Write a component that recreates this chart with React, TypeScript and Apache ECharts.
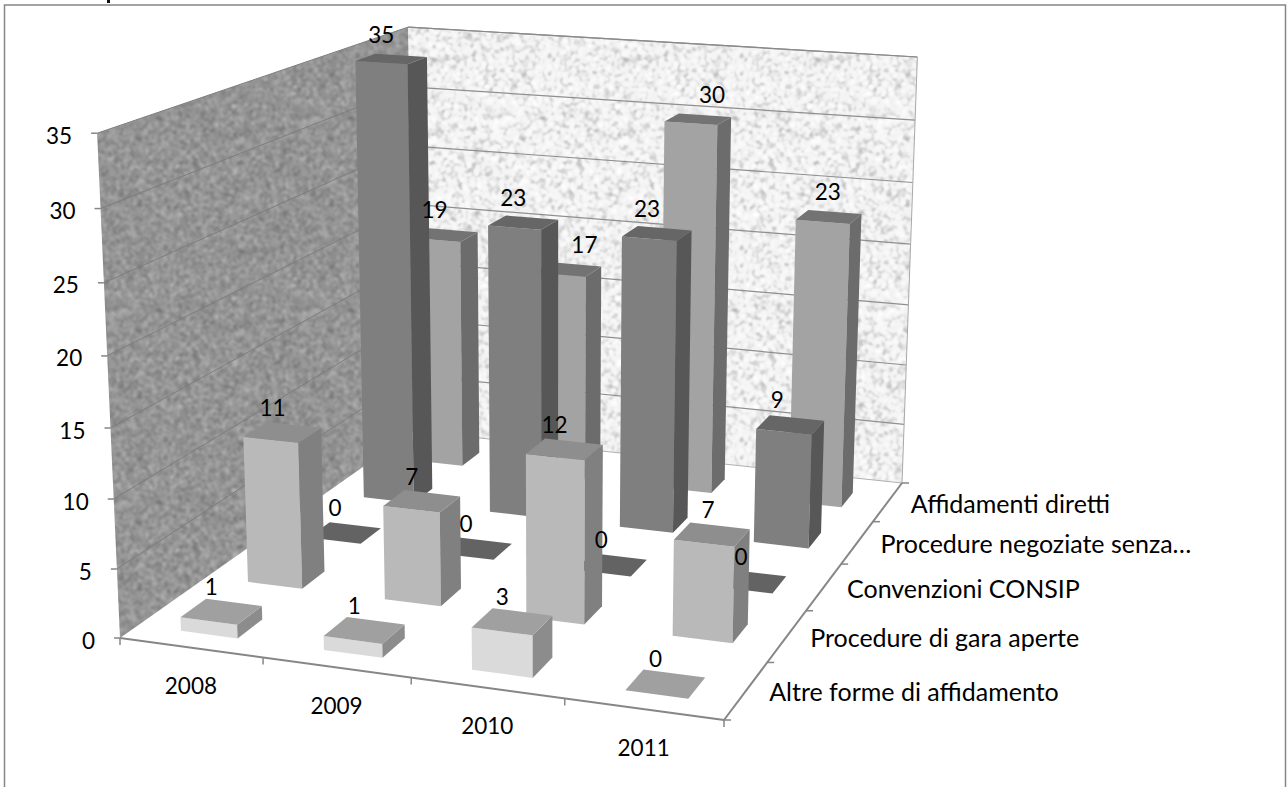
import React, { useEffect, useRef } from "react";
import * as echarts from "echarts";

const years = ["2008", "2009", "2010", "2011"];
const rowNames = [
  "Altre forme di affidamento",
  "Procedure di gara aperte",
  "Convenzioni CONSIP",
  "Procedure negoziate senza…",
  "Affidamenti diretti",
];
const altreForme = [1, 1, 3, 0];
const garaAperte = [11, 7, 12, 7];
const convenzioni = [0, 0, 0, 0];
const negoziate = [35, 23, 23, 9];
const affidamenti = [19, 17, 30, 23];
const rowValues = [altreForme, garaAperte, convenzioni, negoziate, affidamenti];
const valueTicks = [0, 5, 10, 15, 20, 25, 30, 35];

const frontColors = ["#dadada", "#b9b9b9", "#777777", "#7f7f7f", "#a3a3a3"];
const topColors = ["#a0a0a0", "#8e8e8e", "#636363", "#666666", "#737373"];
const sideColors = ["#8c8c8c", "#808080", "#555555", "#575757", "#6c6c6c"];
const FONT = "22.5px Lato, Carlito, sans-serif";
const ROW_FONT = "25px Lato, Carlito, sans-serif";
// horizontal label displacement per row and year (pixels)
const labelNudge = [
  [0, 0, 0, 0],
  [0, 0, 0, 6],
  [0, 0, 0, 0],
  [0, 0, 0, -3],
  [0, 26, 24, 9],
];

// calibration of the perspective view: floor corners and wall-top corners
const F = [[120, 638], [724, 720], [902, 483], [414, 431]];
const TOP: [number, number, number, number][] = [
  [0, 0, 98, 133],
  [0, 1, 407, 30],
  [1, 1, 918, 54],
];
const BAR_W = 0.4;
const BAR_SHIFT_X = 0.005;
const BAR_Z0 = 0.25;
const BAR_Z1 = 0.62;

function makeProjection() {
  const [[x0, y0], [x1, y1], [x2, y2], [x3, y3]] = F;
  const dx1 = x1 - x2, dx2 = x3 - x2, sx = x0 - x1 + x2 - x3;
  const dy1 = y1 - y2, dy2 = y3 - y2, sy = y0 - y1 + y2 - y3;
  const den = dx1 * dy2 - dx2 * dy1;
  const g = (sx * dy2 - dx2 * sy) / den;
  const h = (dx1 * sy - sx * dy1) / den;
  const a = x1 - x0 + g * x1, b = x3 - x0 + h * x3;
  const d = y1 - y0 + g * y1, e = y3 - y0 + h * y3;
  const floor = (u: number, v: number) => [a * u + b * v + x0, d * u + e * v + y0, g * u + h * v + 1];
  // least squares for the column that carries the height
  const rows: number[][] = [];
  TOP.forEach(([u, v, X, Y]) => {
    const [fx, fy, w] = floor(u, v);
    rows.push([1, 0, -X, X * w - fx]);
    rows.push([0, 1, -Y, Y * w - fy]);
  });
  const A = [0, 1, 2].map((i) =>
    [0, 1, 2, 3].map((j) => rows.reduce((s, r) => s + r[i] * r[j], 0))
  );
  for (let i = 0; i < 3; i++) {
    for (let k = 0; k < 3; k++) {
      if (k === i) continue;
      const m = A[k][i] / A[i][i];
      for (let j = i; j < 4; j++) A[k][j] -= m * A[i][j];
    }
  }
  const p = A[0][3] / A[0][0], q = A[1][3] / A[1][1], r = A[2][3] / A[2][2];
  return (u: number, v: number, t: number) => {
    const [fx, fy, w] = floor(u, v);
    const W = w + r * t;
    return [(fx + p * t) / W, (fy + q * t) / W];
  };
}
const project = makeProjection();

function noiseTexture(base: number, amp: number, bias: number) {
  const n = 192;
  const c = document.createElement("canvas");
  c.width = n; c.height = n;
  const ctx = c.getContext("2d")!;
  const img = ctx.createImageData(n, n);
  const hash = (i: number) => {
    const s = Math.sin(i * 12.9898 + 4.1) * 43758.5453;
    return s - Math.floor(s);
  };
  let f = new Float32Array(n * n);
  for (let i = 0; i < n * n; i++) f[i] = hash(i) - 0.5;
  for (let pass = 0; pass < 3; pass++) {
    const o = new Float32Array(n * n);
    for (let y = 0; y < n; y++)
      for (let x = 0; x < n; x++) {
        let s = 0;
        for (let dy = -1; dy <= 1; dy++)
          for (let dx = -1; dx <= 1; dx++) s += f[((y + dy + n) % n) * n + (x + dx + n) % n];
        o[y * n + x] = s / 9;
      }
    f = o;
  }
  for (let i = 0; i < n * n; i++) {
    let v = f[i] * 9;
    if (bias < 0 && v > 0) v *= 0.25;
    const g = Math.max(0, Math.min(255, base + v * amp));
    img.data[i * 4] = g; img.data[i * 4 + 1] = g; img.data[i * 4 + 2] = g; img.data[i * 4 + 3] = 255;
  }
  ctx.putImageData(img, 0, 0);
  return { image: c.toDataURL(), repeat: "repeat", imageWidth: n, imageHeight: n };
}

function poly(points: number[][], fill: any, z2 = 0) {
  return { type: "polygon", silent: true, z2, shape: { points }, style: { fill, stroke: "none" } };
}
function line(a: number[], b: number[], stroke: string, lineWidth = 1) {
  return {
    type: "line", silent: true,
    shape: { x1: a[0], y1: a[1], x2: b[0], y2: b[1] },
    style: { stroke, lineWidth },
  };
}
function label(x: number, y: number, text: string, align = "center", font = FONT) {
  return {
    type: "text", silent: true,
    style: { x, y, text, font, fill: "#000000", align, verticalAlign: "middle" },
  };
}
// maps the value axes of the hidden grid back to the unit cube
function unit(api: any, params: any, uVal: number, value: number) {
  const cs = params.coordSys;
  const pt = api.coord([uVal, value]);
  return { u: (pt[0] - cs.x) / cs.width, t: (cs.y + cs.height - pt[1]) / cs.height };
}

export default function App() {
  const ref = useRef<HTMLDivElement>(null);
  useEffect(() => {
    const leftTex = noiseTexture(148, 15, 0);
    const backTex = noiseTexture(242, 30, -1);
    const chart = echarts.init(ref.current!, null, { renderer: "svg" });

    const barData: number[][] = [];
    for (let r = rowValues.length - 1; r >= 0; r--)
      rowValues[r].forEach((val, i) => barData.push([i, val, r]));

    const renderFrame = (params: any, api: any) => {
      const P = (yearPos: number, rowPos: number, val: number) => {
        const { u, t } = unit(api, params, yearPos, val);
        return project(u, rowPos / rowNames.length, t);
      };
      const top = valueTicks[valueTicks.length - 1];
      const n = years.length, m = rowNames.length;
      const ch: any[] = [
        poly([P(0, 0, 0), P(0, m, 0), P(0, m, top), P(0, 0, top)], leftTex),
        poly([P(0, m, 0), P(n, m, 0), P(n, m, top), P(0, m, top)], backTex),
      ];
      valueTicks.forEach((tv) => {
        if (tv > 0) {
          ch.push(line(P(0, 0, tv), P(0, m, tv), "#7d7d7d"));
          ch.push(line(P(0, m, tv), P(n, m, tv), "#8f8f8f", 1.2));
        }
        const a = P(0, 0, tv);
        ch.push(line([a[0] - 6, a[1]], a, "#868686", 1.5));
        ch.push(label(a[0] - 25, a[1] + 2, String(tv), "right"));
      });
      ch.push(line(P(0, m, top), P(n, m, top), "#8a8a8a", 1.2));
      ch.push(line(P(n, m, top), P(n, m, 0), "#a8a8a8", 1));
      ch.push(line(P(0, m, 0), P(n, m, 0), "#b0b0b0", 1));
      ch.push(line(P(0, 0, 0), P(n, 0, 0), "#868686", 2));
      ch.push(line(P(n, 0, 0), P(n, m, 0), "#868686", 2));
      for (let i = 0; i <= n; i++) {
        const a = P(i, 0, 0);
        ch.push(line(a, [a[0], a[1] + 7], "#868686", 1.5));
      }
      for (let r = 0; r <= m; r++) {
        const a = P(n, r, 0);
        ch.push(line(a, [a[0] + 7, a[1]], "#868686", 1.5));
      }
      years.forEach((y, i) => {
        const a = P(i + 0.5, 0, 0);
        ch.push(label(a[0], a[1] + 38, y));
      });
      rowNames.forEach((name, r) => {
        const a = P(n, r + 0.5, 0);
        ch.push(label(a[0] + 23, a[1] + 1, name, "left", ROW_FONT));
      });
      return { type: "group", children: ch };
    };

    const geometry = (params: any, api: any) => {
      const i = api.value(0), val = api.value(1), r = api.value(2);
      const off = (1 - BAR_W) / 2 + BAR_SHIFT_X;
      const P = (yearPos: number, rowPos: number, v: number) => {
        const { u, t } = unit(api, params, yearPos, v);
        return project(u, rowPos / rowNames.length, t);
      };
      return { P, x0: i + off, x1: i + off + BAR_W, z0: r + BAR_Z0, z1: r + BAR_Z1, val, r, i };
    };

    const renderBar = (params: any, api: any) => {
      const { P, x0, x1, z0, z1, val, r } = geometry(params, api);
      const ch: any[] = [];
      if (val > 0) {
        ch.push(poly([P(x0, z0, 0), P(x1, z0, 0), P(x1, z0, val), P(x0, z0, val)], frontColors[r]));
        ch.push(poly([P(x1, z0, 0), P(x1, z1, 0), P(x1, z1, val), P(x1, z0, val)], sideColors[r]));
      }
      ch.push(poly([P(x0, z0, val), P(x1, z0, val), P(x1, z1, val), P(x0, z1, val)], topColors[r]));
      return { type: "group", children: ch };
    };

    const renderValue = (params: any, api: any) => {
      const { P, x0, x1, z0, z1, val, r, i } = geometry(params, api);
      const a = P((x0 + x1) / 2, (z0 + z1) / 2, val);
      return label(a[0] - 10 + labelNudge[r][i], a[1] - 25, String(val));
    };

    chart.setOption({
      animation: false,
      backgroundColor: "#ffffff",
      grid: { left: 0, right: 0, top: 0, bottom: 0 },
      xAxis: { type: "value", min: 0, max: years.length, show: false },
      yAxis: { type: "value", min: 0, max: 35, interval: 5, show: false },
      graphic: [
        {
          type: "polyline", silent: true,
          shape: { points: [[4.5, 787], [4.5, 5], [1285.5, 5], [1285.5, 787]] },
          style: { stroke: "#868686", lineWidth: 1.5, fill: "none" },
        },
        { type: "rect", silent: true, shape: { x: 107, y: 0, width: 3, height: 3 }, style: { fill: "#111111" } },
      ],
      series: [
        { type: "custom", z: 1, silent: true, clip: false, renderItem: renderFrame, data: [[0, 0]], encode: { x: 0, y: 1 } },
        { type: "custom", z: 2, silent: true, clip: false, renderItem: renderBar, data: barData, encode: { x: 0, y: 1 } },
        { type: "custom", z: 3, silent: true, clip: false, renderItem: renderValue, data: barData, encode: { x: 0, y: 1 } },
      ],
    });
    return () => chart.dispose();
  }, []);
  return <div ref={ref} style={{ position: "fixed", left: 0, top: 0, width: 1287, height: 787 }} />;
}
